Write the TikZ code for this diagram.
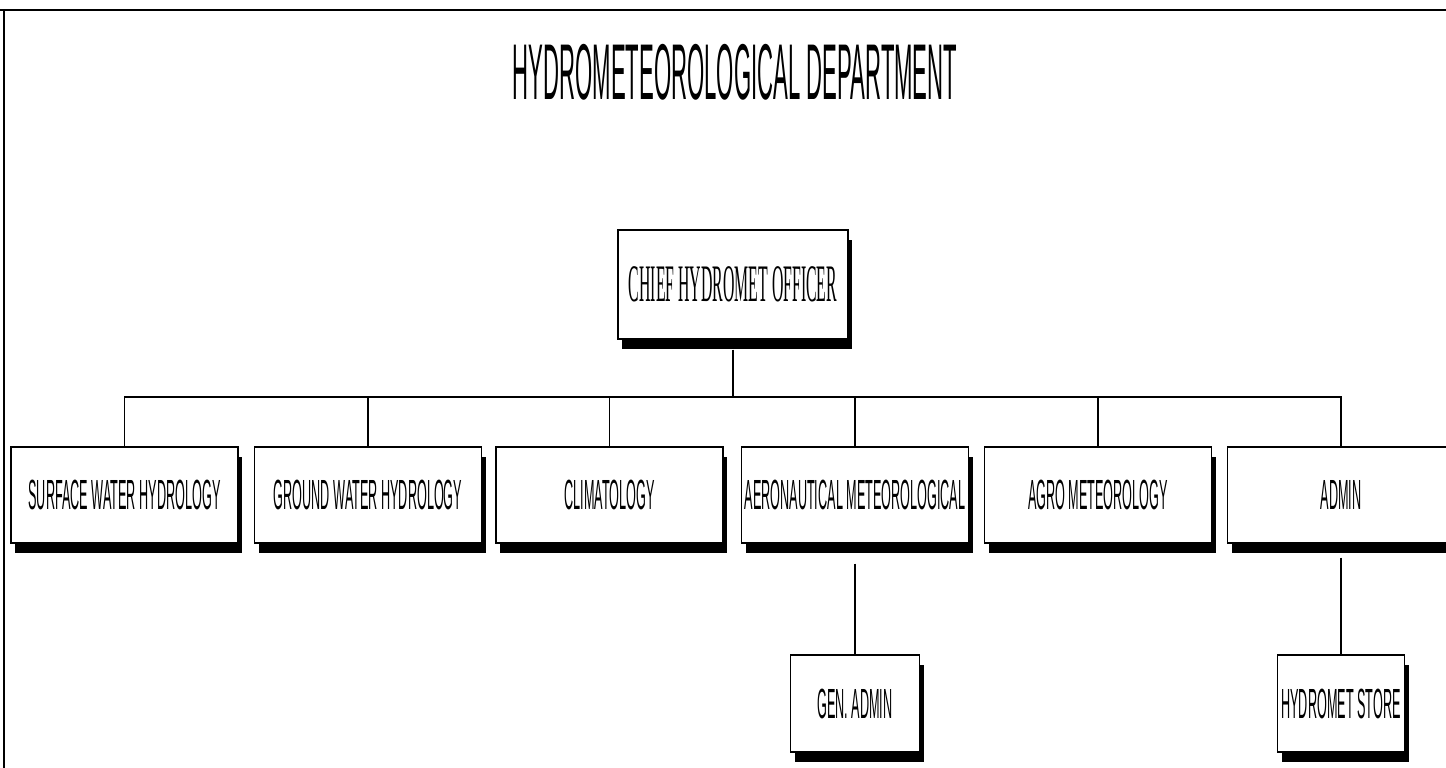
\documentclass[tikz,border=0pt]{standalone}
\usepackage{fontspec}
\setmainfont{Liberation Sans}
\newfontfamily\chieffont{Liberation Serif}
\usetikzlibrary{shadows}
\newcommand{\squeeze}[2][0.3]{\scalebox{#1}[1]{#2}}

\begin{document}
\begin{tikzpicture}[
	office/.style={draw,line width=0.6pt,fill=white,minimum width=4.54cm,minimum height=1.92cm,inner sep=0pt,font=\fontsize{24}{28}\selectfont,drop shadow={shadow xshift=0.08cm,shadow yshift=-0.2cm,fill=black,opacity=1}},
	link/.style={line width=0.6pt}]
	\useasboundingbox (0,0) rectangle (28.92,-15.36);
	% frame
	\draw[line width=1.2pt] (0,-0.2)--(28.92,-0.2);
	\draw[line width=1pt] (0.08,-0.2)--(0.08,-15.36);
	\node (title) at (14.70,-1.44) {\fontsize{45}{50}\selectfont\squeeze[0.28]{HYDROMETEOROLOGICAL DEPARTMENT}};
	\node[office,minimum width=4.6cm,minimum height=2.18cm,font=\chieffont\fontsize{30}{34}\selectfont] (chief) at (14.66,-5.69) {\squeeze{CHIEF HYDROMET OFFICER}};
	\coordinate (bus) at (14.66,-7.94);
	% units
	\node[office] (surface) at (2.49,-9.90) {\squeeze{SURFACE WATER HYDROLOGY}};
	\node[office] (ground) at (7.36,-9.90) {\squeeze{GROUND WATER HYDROLOGY}};
	\node[office] (climate) at (12.19,-9.90) {\squeeze{CLIMATOLOGY}};
	\node[office] (aero) at (17.10,-9.90) {\squeeze{AERONAUTICAL METEOROLOGICAL}};
	\node[office] (agro) at (21.96,-9.90) {\squeeze{AGRO METEOROLOGY}};
	\node[office] (admin) at (26.82,-9.90) {\squeeze{ADMIN}};
	\node[office,minimum width=2.58cm,minimum height=1.94cm] (gen) at (17.10,-14.07) {\squeeze{GEN. ADMIN}};
	\node[office,minimum width=2.54cm,minimum height=1.94cm] (store) at (26.82,-14.07) {\squeeze{HYDROMET STORE}};
	% links
	\draw[link,shorten <=0.2cm] (chief.south)--(bus);
	\foreach \n in {surface,ground,climate,aero,agro,admin}
		\draw[link] (bus) -| (\n.north);
	\draw[link,shorten <=0.4cm] (aero.south)--(gen.north);
	\draw[link,shorten <=0.28cm] (admin.south)--(store.north);
\end{tikzpicture}
\end{document}
